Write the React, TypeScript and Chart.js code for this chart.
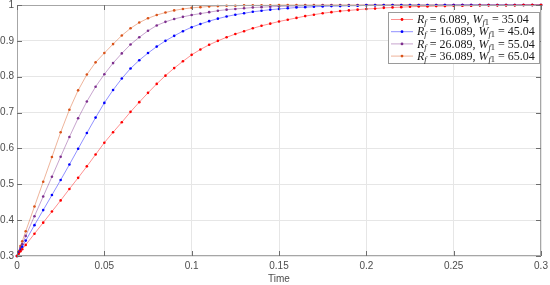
import React, { useEffect, useRef } from "react";
import { Chart, registerables } from "chart.js";

Chart.register(...registerables);

// ---- data ----
const time = [
  0, 0.001, 0.002, 0.003,
  0.005, 0.01, 0.015, 0.02, 0.025, 0.03, 0.035, 0.04, 0.045, 0.05,
  0.055, 0.06, 0.065, 0.07, 0.075, 0.08, 0.085, 0.09, 0.095, 0.1,
  0.105, 0.11, 0.115, 0.12, 0.125, 0.13, 0.135, 0.14, 0.145, 0.15,
  0.155, 0.16, 0.165, 0.17, 0.175, 0.18, 0.185, 0.19, 0.195, 0.2,
  0.205, 0.21, 0.215, 0.22, 0.225, 0.23, 0.235, 0.24, 0.245, 0.25,
  0.255, 0.26, 0.265, 0.27, 0.275, 0.28, 0.285, 0.29, 0.295, 0.3,
];

const seriesRed = [
  0.3, 0.306, 0.313, 0.319,
  0.331, 0.362, 0.393, 0.424, 0.455, 0.487, 0.518, 0.55, 0.583, 0.616,
  0.645, 0.673, 0.702, 0.729, 0.755, 0.78, 0.803, 0.824, 0.843, 0.861,
  0.876, 0.889, 0.9, 0.91, 0.919, 0.927, 0.935, 0.942, 0.948, 0.954,
  0.959, 0.964, 0.969, 0.973, 0.977, 0.98, 0.983, 0.985, 0.987, 0.989,
  0.99, 0.992, 0.993, 0.994, 0.995, 0.996, 0.996, 0.997, 0.997, 0.998,
  0.998, 0.998, 0.999, 0.999, 0.999, 0.999, 0.999, 1.0, 1.0, 1.0,
];

const seriesBlue = [
  0.3, 0.309, 0.317, 0.326,
  0.343, 0.386, 0.428, 0.47, 0.512, 0.555, 0.599, 0.643, 0.686, 0.727,
  0.763, 0.795, 0.823, 0.846, 0.866, 0.884, 0.9, 0.914, 0.927, 0.938,
  0.947, 0.955, 0.962, 0.968, 0.973, 0.977, 0.981, 0.984, 0.987, 0.989,
  0.991, 0.993, 0.994, 0.995, 0.996, 0.997, 0.997, 0.998, 0.998, 0.999,
  0.999, 0.999, 0.999, 0.999, 0.999, 0.999, 0.999, 0.999, 1.0, 1.0,
  1.0, 1.0, 1.0, 1.0, 1.0, 1.0, 1.0, 1.0, 1.0, 1.0,
];

const seriesPurple = [
  0.3, 0.311, 0.322, 0.333,
  0.356, 0.411, 0.466, 0.521, 0.577, 0.632, 0.684, 0.731, 0.772, 0.807,
  0.838, 0.865, 0.89, 0.91, 0.928, 0.943, 0.953, 0.961, 0.967, 0.972,
  0.976, 0.98, 0.984, 0.987, 0.989, 0.991, 0.993, 0.994, 0.995, 0.996,
  0.997, 0.997, 0.998, 0.998, 0.999, 0.999, 0.999, 0.999, 0.999, 1.0,
  1.0, 1.0, 1.0, 1.0, 1.0, 1.0, 1.0, 1.0, 1.0, 1.0,
  1.0, 1.0, 1.0, 1.0, 1.0, 1.0, 1.0, 1.0, 1.0, 1.0,
];

const seriesOrange = [
  0.3, 0.314, 0.328, 0.341,
  0.369, 0.438, 0.507, 0.576, 0.645, 0.708, 0.762, 0.806, 0.84, 0.866,
  0.891, 0.915, 0.935, 0.951, 0.963, 0.972, 0.979, 0.985, 0.989, 0.992,
  0.994, 0.996, 0.997, 0.998, 0.998, 0.999, 0.999, 0.999, 0.999, 1.0,
  1.0, 1.0, 1.0, 1.0, 1.0, 1.0, 1.0, 1.0, 1.0, 1.0,
  1.0, 1.0, 1.0, 1.0, 1.0, 1.0, 1.0, 1.0, 1.0, 1.0,
  1.0, 1.0, 1.0, 1.0, 1.0, 1.0, 1.0, 1.0, 1.0, 1.0,
];

const rfValues = ["6.089", "16.089", "26.089", "36.089"];
const wfValues = ["35.04", "45.04", "55.04", "65.04"];
const xAxisTitle = "Time";
const xRange = [0, 0.3, 0.05];
const yRange = [0.3, 1, 0.1];

// ---- styles ----
const colors = ["#ff0000", "#0000ff", "#7e2f8e", "#d95319"];
const lineColors = ["rgba(255,0,0,0.55)", "rgba(0,0,255,0.55)", "rgba(126,47,142,0.55)", "rgba(217,83,25,0.55)"];
const axisColor = "#a6a6a6";
const tickColor = "#4d4d4d";
const sansFont = "'Liberation Sans', Arial, sans-serif";
const serifFont = "'Liberation Serif', 'Times New Roman', serif";

const fmt = (v: number) => String(Number(Number(v).toFixed(3)));

const framePlugin = {
  id: "matlabFrame",
  afterDatasetsDraw(chart: any) {
    const { ctx, chartArea, scales } = chart;
    const { left, right, top, bottom } = chartArea;
    ctx.save();
    // axes box
    ctx.strokeStyle = axisColor;
    ctx.lineWidth = 1;
    ctx.strokeRect(left + 0.5, top + 0.5, right - left - 1, bottom - top - 1);
    // inward ticks
    ctx.strokeStyle = "#6e6e6e";
    ctx.beginPath();
    scales.x.ticks.forEach((t: any) => {
      const px = Math.round(scales.x.getPixelForValue(t.value)) + 0.5;
      ctx.moveTo(px, bottom);
      ctx.lineTo(px, bottom - 5);
      ctx.moveTo(px, top);
      ctx.lineTo(px, top + 5);
    });
    scales.y.ticks.forEach((t: any) => {
      const py = Math.round(scales.y.getPixelForValue(t.value)) + 0.5;
      ctx.moveTo(left, py);
      ctx.lineTo(left + 5, py);
      ctx.moveTo(right, py);
      ctx.lineTo(right - 5, py);
    });
    ctx.stroke();

    // legend
    const bx = 388, by = 12, bw = 151, bh = 51;
    ctx.fillStyle = "#ffffff";
    ctx.fillRect(bx, by, bw, bh);
    ctx.strokeStyle = "#9a9a9a";
    ctx.strokeRect(bx + 0.5, by + 0.5, bw, bh);
    const rowH = 12.2;
    for (let i = 0; i < rfValues.length; i++) {
      const cy = by + 7.5 + i * rowH;
      ctx.strokeStyle = lineColors[i];
      ctx.lineWidth = 0.8;
      ctx.beginPath();
      ctx.moveTo(bx + 3, cy);
      ctx.lineTo(bx + 25, cy);
      ctx.stroke();
      ctx.fillStyle = colors[i];
      ctx.beginPath();
      ctx.arc(bx + 14, cy, 1.4, 0, Math.PI * 2);
      ctx.fill();

      const parts: [string, string, number][] = [
        ["R", `italic 12px ${serifFont}`, 0],
        ["f", `italic 8.5px ${serifFont}`, 3],
        [" = " + rfValues[i] + ", ", `12px ${serifFont}`, 0],
        ["W", `italic 12px ${serifFont}`, 0],
        ["f", `italic 8.5px ${serifFont}`, 3],
        ["1", `8.5px ${serifFont}`, 3],
        [" = " + wfValues[i], `12px ${serifFont}`, 0],
      ];
      let x = bx + 29;
      ctx.fillStyle = "#1a1a1a";
      ctx.textBaseline = "middle";
      ctx.textAlign = "left";
      for (const [txt, font, dy] of parts) {
        ctx.font = font;
        ctx.fillText(txt, x, cy + 0.5 + dy);
        x += ctx.measureText(txt).width;
      }
    }
    ctx.restore();
  },
};

export default function App() {
  const canvasRef = useRef<HTMLCanvasElement | null>(null);

  useEffect(() => {
    const canvas = canvasRef.current;
    if (!canvas) return;
    const allSeries = [seriesRed, seriesBlue, seriesPurple, seriesOrange];
    const datasets = allSeries.map((s, i) => ({
      label: `Rf = ${rfValues[i]}, Wf1 = ${wfValues[i]}`,
      data: time.map((t, k) => ({ x: t, y: s[k] })),
      borderColor: lineColors[i],
      backgroundColor: colors[i],
      pointBackgroundColor: colors[i],
      pointBorderWidth: 0,
      pointRadius: 1.3,
      pointHoverRadius: 1.3,
      borderWidth: 0.8,
      tension: 0,
      fill: false,
      clip: 3,
    }));

    const chart = new Chart(canvas, {
      type: "line",
      data: { datasets },
      options: {
        animation: false,
        responsive: true,
        maintainAspectRatio: false,
        layout: { padding: { left: 0, right: 9, top: 5, bottom: 0 } },
        plugins: { legend: { display: false }, tooltip: { enabled: false } },
        scales: {
          x: {
            type: "linear",
            min: xRange[0],
            max: xRange[1],
            ticks: {
              stepSize: xRange[2],
              callback: (v: any) => fmt(v),
              color: tickColor,
              font: { family: sansFont, size: 10 },
              padding: 4,
              maxRotation: 0,
            },
            grid: { color: "#e6e6e6", drawTicks: false },
            border: { display: false },
            title: {
              display: true,
              text: xAxisTitle,
              color: tickColor,
              font: { family: sansFont, size: 10 },
              padding: { top: 0, bottom: 0 },
            },
            afterFit: (s: any) => {
              s.height = 29;
              s.paddingLeft = 0;
              s.paddingRight = 0;
            },
          },
          y: {
            type: "linear",
            min: yRange[0],
            max: yRange[1],
            ticks: {
              stepSize: yRange[2],
              callback: (v: any) => fmt(v),
              color: tickColor,
              font: { family: sansFont, size: 10 },
              padding: 3,
            },
            grid: { color: "#e6e6e6", drawTicks: false },
            border: { display: false },
            afterFit: (s: any) => {
              s.width = 17;
              s.paddingTop = 0;
              s.paddingBottom = 0;
            },
          },
        },
      } as any,
      plugins: [framePlugin],
    });
    return () => chart.destroy();
  }, []);

  return (
    <div style={{ position: "absolute", left: 0, top: 0, width: 550, height: 285, background: "#fff" }}>
      <canvas ref={canvasRef} />
    </div>
  );
}
